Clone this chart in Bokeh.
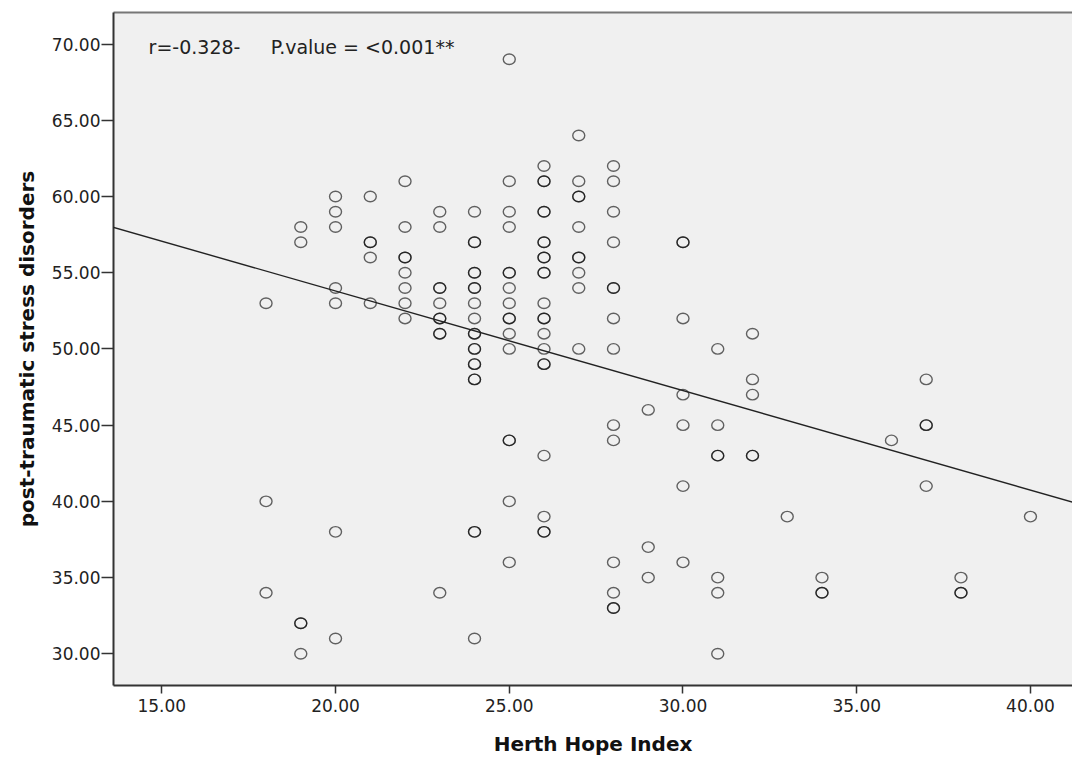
from bokeh.plotting import figure
from bokeh.models import (FixedTicker, PrintfTickFormatter, LinearAxis, Slope,
                          Label, ColumnDataSource, Range1d)
from bokeh.embed import file_html
from bokeh.resources import INLINE

# ---- data (duplicates = darker rings) ----
hope_levels = [18, 19, 20, 21, 22, 23, 24, 25, 26, 27, 28, 29, 30, 31, 32, 33, 34, 36, 37, 38, 40]
ptsd_by_level = [
    [53, 40, 34],
    [58, 57, 32, 32, 30],
    [60, 59, 58, 54, 53, 38, 31],
    [60, 57, 57, 56, 53],
    [61, 58, 56, 56, 55, 54, 53, 52],
    [59, 58, 54, 54, 53, 52, 52, 51, 51, 34],
    [59, 57, 57, 55, 55, 54, 54, 53, 52, 51, 51, 50, 50, 49, 49, 48, 48, 38, 38, 31],
    [69, 61, 59, 58, 55, 55, 54, 53, 52, 52, 51, 50, 44, 44, 40, 36],
    [62, 61, 61, 59, 59, 57, 57, 56, 56, 55, 55, 53, 52, 52, 51, 50, 49, 49, 43, 39, 38, 38],
    [64, 61, 60, 60, 58, 56, 56, 55, 54, 50],
    [62, 61, 59, 57, 54, 54, 52, 50, 45, 44, 36, 34, 33, 33],
    [46, 37, 35],
    [57, 57, 52, 47, 45, 41, 36],
    [50, 45, 43, 43, 35, 34, 30],
    [51, 48, 47, 43, 43],
    [39],
    [35, 34, 34],
    [44],
    [48, 45, 45, 41],
    [35, 34, 34],
    [39],
]
x_ticks = [15, 20, 25, 30, 35, 40]
y_ticks = [30, 35, 40, 45, 50, 55, 60, 65, 70]
fit_slope = -0.653
fit_intercept = 66.86
x_lo, x_hi = 13.61, 41.21
y_lo, y_hi = 27.92, 72.07
NB = "\u00a0"
annotation_text = "r=-0.328-" + NB * 5 + "P.value" + NB + "=" + NB + "<0.001**"

hope_index = [h for h, ys in zip(hope_levels, ptsd_by_level) for _ in ys]
ptsd_score = [y for ys in ptsd_by_level for y in ys]

src = ColumnDataSource(dict(x=hope_index, y=ptsd_score))

p = figure(width=1072, height=758, output_backend="svg", toolbar_location=None,
           x_range=Range1d(x_lo, x_hi), y_range=Range1d(y_lo, y_hi),
           min_border_left=113, min_border_right=0, min_border_top=12, min_border_bottom=73)
p.background_fill_color = "#f0f0f0"
p.border_fill_color = "white"
p.outline_line_color = None
p.xgrid.visible = False
p.ygrid.visible = False

FONT = "DejaVu Sans"
for ax in (p.xaxis[0], p.yaxis[0]):
    ax.axis_line_color = "#333333"
    ax.axis_line_width = 2
    ax.major_tick_line_color = "#333333"
    ax.major_tick_line_width = 1.5
    ax.major_tick_in = 0
    ax.minor_tick_line_color = None
    ax.formatter = PrintfTickFormatter(format="%.2f")
    ax.major_label_text_font = FONT
    ax.major_label_text_font_size = "17px"
    ax.major_label_text_color = "#222222"
    ax.axis_label_text_font = FONT
    ax.axis_label_text_font_style = "bold"
    ax.axis_label_text_font_size = "20px"
    ax.axis_label_text_color = "#111111"

p.xaxis.ticker = FixedTicker(ticks=x_ticks)
p.yaxis.ticker = FixedTicker(ticks=y_ticks)
p.xaxis.major_tick_out = 8
p.yaxis.major_tick_out = 12
p.xaxis.major_label_standoff = 5
p.yaxis.major_label_standoff = 1
p.xaxis.axis_label = "Herth Hope Index"
p.yaxis.axis_label = "post-traumatic stress disorders"
p.xaxis.axis_label_standoff = 17
p.yaxis.axis_label_standoff = 10

top = LinearAxis(ticker=FixedTicker(ticks=[]), axis_line_color="#777777", axis_line_width=2,
                 major_tick_out=0, major_tick_in=0, minor_tick_out=0, minor_tick_in=0,
                 major_label_text_font_size="0px", major_label_standoff=0)
p.add_layout(top, "above")

p.add_layout(Slope(gradient=fit_slope, y_intercept=fit_intercept,
                   line_color="#222222", line_width=1.4))

p.ellipse(x="x", y="y", width=12, height=10.5, width_units="screen", height_units="screen",
          source=src, fill_color=None, line_color="#000000", line_alpha=0.6, line_width=1.4)

p.add_layout(Label(x=14.62, y=69.78, text=annotation_text, text_font=FONT,
                   text_font_size="19px", text_color="#222222", text_baseline="alphabetic"))

open("out.html", "w").write(file_html(p, INLINE))
